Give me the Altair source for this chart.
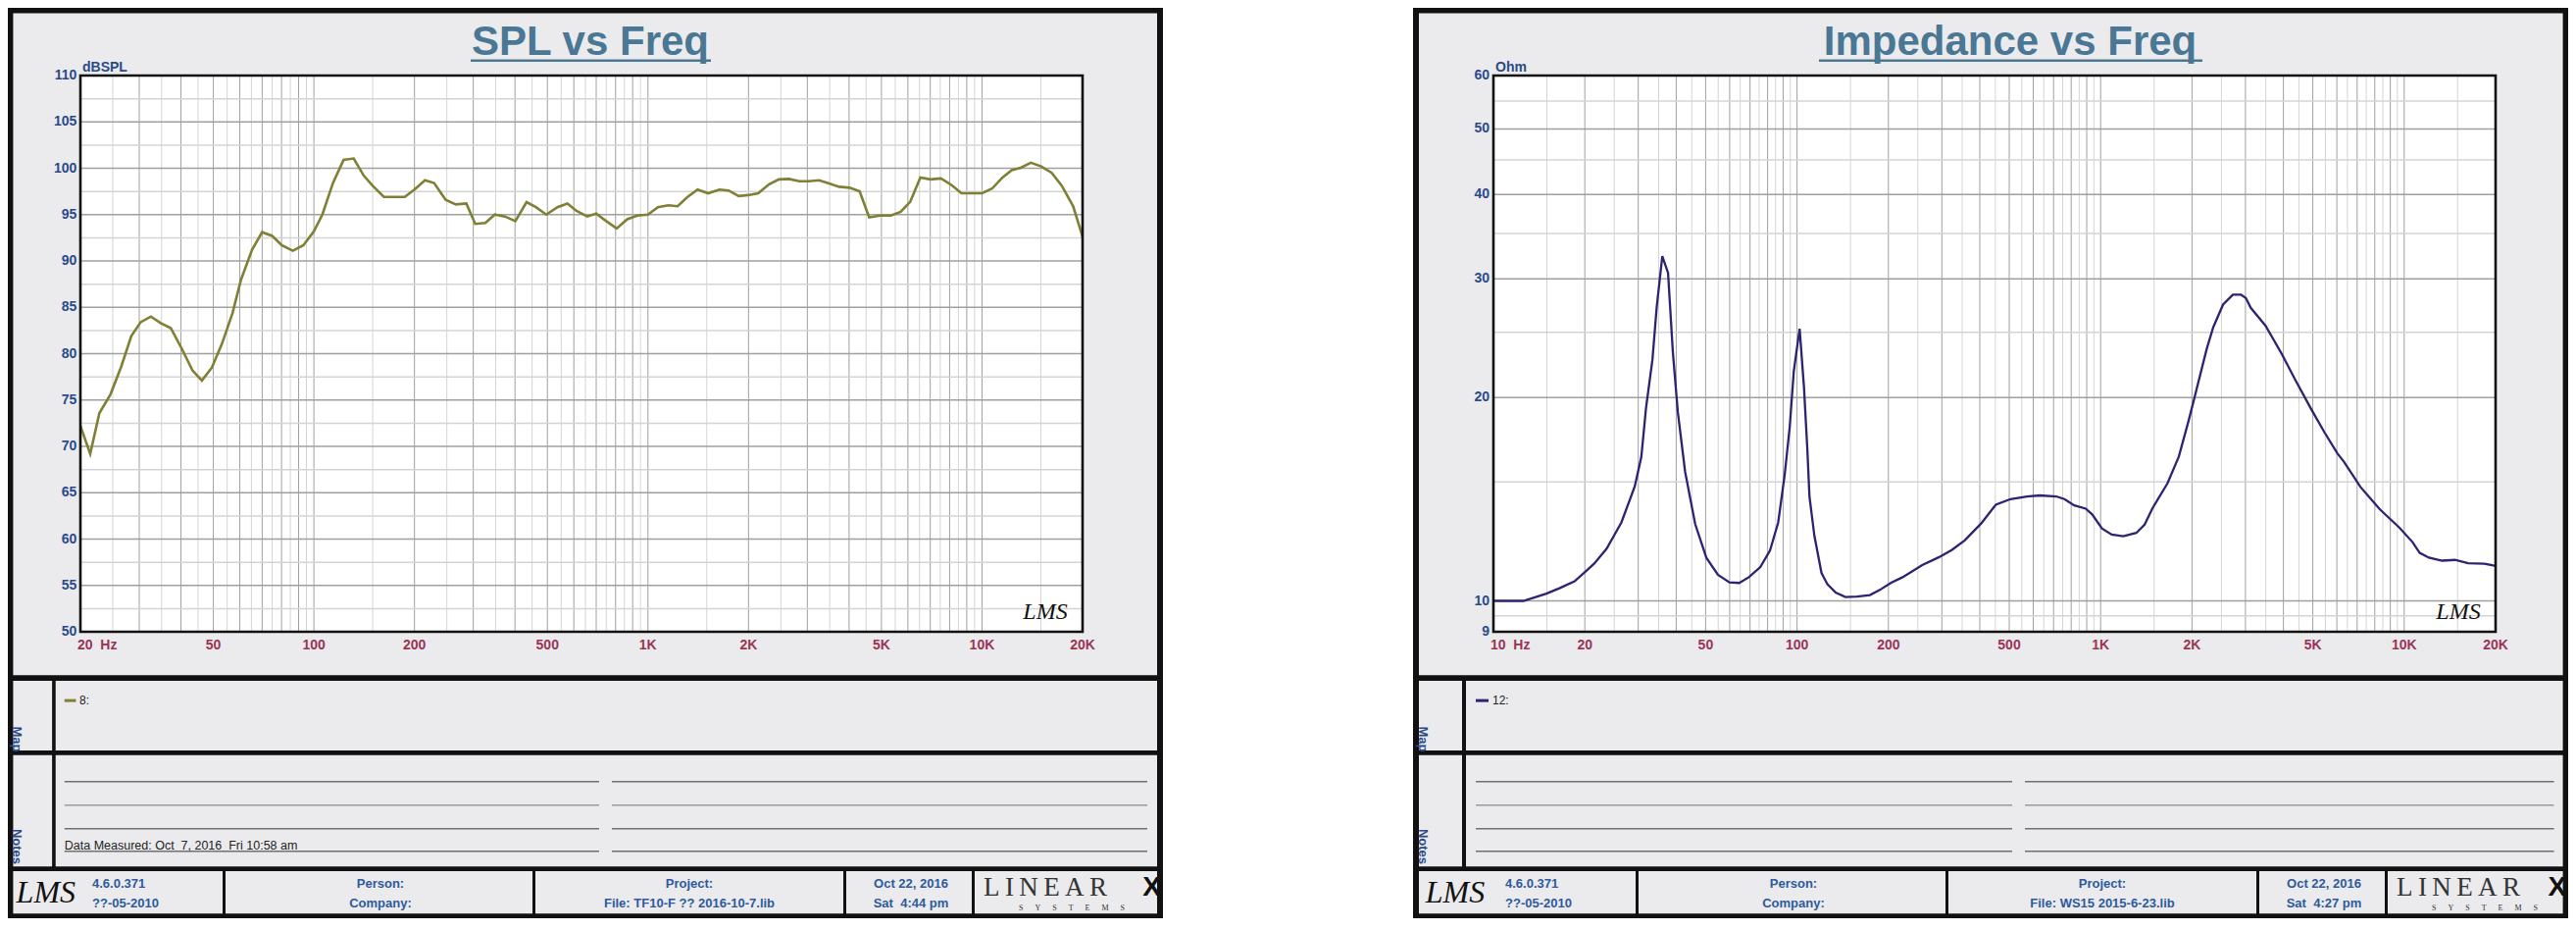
import altair as alt
import pandas as pd

# ---------------- data ----------------
spl_freq = [20, 21.4, 22.8, 24.6, 26.5, 28.4, 30.3, 32.5, 34.8, 37.3, 40.4, 43.3, 46.2, 49.5,
            53.1, 57.1, 60.4, 65.3, 70, 75, 80.1, 86.5, 93, 100, 106, 114, 122.7, 131.6, 141,
            150, 162, 187, 200, 215, 229, 248, 266, 286, 304, 326, 348, 373, 401, 433, 462,
            496, 536, 574, 611, 658, 700, 750, 806, 867, 929, 1000, 1071, 1151, 1227, 1314,
            1408, 1514, 1637, 1744, 1869, 1991, 2139, 2300, 2464, 2642, 2840, 3025, 3252,
            3485, 3734, 4014, 4302, 4595, 4957, 5331, 5710, 6100, 6538, 7006, 7532, 8097,
            8680, 9299, 10000, 10716, 11520, 12270, 13070, 14000, 15040, 16170, 17340,
            18750, 20000]
spl_db = [72.2, 69.2, 73.6, 75.6, 78.6, 81.9, 83.4, 84.0, 83.3, 82.75, 80.4, 78.2, 77.1, 78.5,
          81.1, 84.4, 87.9, 91.2, 93.1, 92.7, 91.7, 91.1, 91.7, 93.2, 95.0, 98.4, 100.9, 101.05,
          99.2, 98.1, 96.9, 96.9, 97.7, 98.7, 98.4, 96.6, 96.1, 96.2, 94.0, 94.1, 95.0, 94.8,
          94.3, 96.35, 95.8, 95.0, 95.8, 96.2, 95.4, 94.8, 95.1, 94.3, 93.5, 94.5, 94.9, 95.0,
          95.8, 96.0, 95.9, 96.9, 97.7, 97.3, 97.7, 97.6, 97.0, 97.1, 97.3, 98.25, 98.8, 98.85,
          98.6, 98.6, 98.7, 98.35, 98.0, 97.9, 97.5, 94.7, 94.9, 94.9, 95.3, 96.4, 99.0, 98.8,
          98.9, 98.2, 97.3, 97.3, 97.3, 97.8, 99.0, 99.8, 100.05, 100.6, 100.2, 99.5, 98.1,
          95.9, 92.6]

imp_freq = [10, 12.56, 14.94, 16.5, 18.5, 20.1, 21.45, 23.6, 26.4, 29.2, 30.7, 31.8, 33.4,
            34.5, 36.0, 37.6, 39.0, 40.5, 42.8, 46.2, 50.3, 54.9, 59.9, 64.5, 69.4, 75.7, 81.5,
            86.7, 91.0, 94.6, 97.6, 102, 105.4, 108.1, 109.9, 114.1, 120.4, 126, 134.1, 144.4,
            157.4, 173.9, 187.3, 204.2, 222.7, 258.5, 292.7, 323.1, 356.7, 404, 451.7, 505,
            571.5, 631, 714.5, 760, 818.5, 893, 938, 1010, 1088, 1187, 1311, 1396, 1484, 1660,
            1810, 1950, 2048, 2235, 2349, 2531, 2726, 2900, 3009, 3123, 3492, 3954, 4365, 4941,
            5457, 6023, 6330, 7167, 8318, 9650, 10653, 11247, 12063, 13314, 14703, 16240,
            18373, 20000]
imp_ohm = [10.0, 10.0, 10.25, 10.44, 10.69, 11.05, 11.35, 11.95, 13.07, 14.77, 16.34, 19.27,
           22.76, 27.23, 32.4, 30.6, 23.35, 19.03, 15.53, 12.99, 11.58, 10.93, 10.65, 10.63,
           10.84, 11.22, 11.88, 13.07, 15.33, 18.08, 21.9, 25.3, 20.75, 16.83, 14.27, 12.48,
           11.0, 10.58, 10.29, 10.13, 10.15, 10.2, 10.38, 10.64, 10.84, 11.3, 11.6, 11.89,
           12.29, 13.02, 13.88, 14.15, 14.28, 14.33, 14.28, 14.15, 13.85, 13.7, 13.43, 12.8,
           12.54, 12.47, 12.61, 12.97, 13.73, 14.93, 16.36, 18.5, 20.17, 23.6, 25.42, 27.47,
           28.41, 28.41, 28.1, 27.17, 25.57, 23.2, 21.3, 19.23, 17.78, 16.54, 16.08, 14.76,
           13.66, 12.83, 12.22, 11.78, 11.59, 11.47, 11.5, 11.37, 11.35, 11.27]

spl_xlab_f = [20, 50, 100, 200, 500, 1000, 2000, 5000, 10000, 20000]
spl_xlab_t = ["20\u00a0\u00a0Hz", "50", "100", "200", "500", "1K", "2K", "5K", "10K", "20K"]
spl_ylab_v = [50, 55, 60, 65, 70, 75, 80, 85, 90, 95, 100, 105, 110]
spl_ylab_t = ["50", "55", "60", "65", "70", "75", "80", "85", "90", "95", "100", "105", "110"]
spl_hmajor = [55, 60, 65, 70, 75, 80, 85, 90, 95, 100, 105]
spl_hminor = [52.5, 57.5, 62.5, 67.5, 72.5, 77.5, 82.5, 87.5, 92.5, 97.5, 102.5, 107.5]

imp_xlab_f = [10, 20, 50, 100, 200, 500, 1000, 2000, 5000, 10000, 20000]
imp_xlab_t = ["10\u00a0\u00a0Hz", "20", "50", "100", "200", "500", "1K", "2K", "5K", "10K", "20K"]
imp_ylab_v = [9, 10, 20, 30, 40, 50, 60]
imp_ylab_t = ["9", "10", "20", "30", "40", "50", "60"]
imp_hmajor = [10, 20, 30, 40, 50]
imp_hminor = [9.5, 15, 25, 35, 45, 55]

decades = [10, 100, 1000, 10000]
major_mults = [1, 2, 3, 4, 5, 6, 7, 8, 9]
minor_mults = [1.5, 2.5, 3.5, 4.5, 5.5, 6.5, 7.5, 8.5, 9.5]

# ---------------- layout / style ----------------
W, H = 2611, 928
# reference-pixel -> chart-pixel mapping (page has an 8px margin)
XK = [(0, 0), (82, 74), (2545, 2537), (2627, 2611)]
YK = [(0, 0), (77, 69), (644, 636), (948, 928)]


def _pw(v, knots):
    for (a, fa), (b, fb) in zip(knots[:-1], knots[1:]):
        if v <= b:
            return round(fa + (v - a) * (fb - fa) / (b - a), 2)
    return float(knots[-1][1])


def X(v):
    return _pw(v, XK)


def Y(v):
    return _pw(v, YK)


SANS = "Liberation Sans, Arial, Helvetica, sans-serif"
SERIF = "Liberation Serif, Times New Roman, serif"
PANEL = "#ebebed"
TITLE_C = "#4a7794"
YLAB_C = "#2a4a88"
XLAB_C = "#9a3456"
FOOT_C = "#2e5a9c"
GRID_MAJ = "#a0a0a0"
GRID_MIN = "#d4d4d4"
SPL_C = "#7f7f35"
IMP_C = "#2b2472"

ONE = pd.DataFrame({"k": [0]})


def rect(x1, y1, x2, y2, fill, stroke=None, sw=0, fill_opacity=1):
    kw = dict(fill=fill, fillOpacity=fill_opacity)
    if stroke:
        kw.update(stroke=stroke, strokeWidth=sw)
    return alt.Chart(ONE).mark_rect(**kw).encode(
        x=alt.value(X(x1)), x2=alt.value(X(x2)), y=alt.value(Y(y1)), y2=alt.value(Y(y2)))


def hline(x1, x2, y, color, sw):
    return alt.Chart(ONE).mark_rule(color=color, strokeWidth=sw).encode(
        x=alt.value(X(x1)), x2=alt.value(X(x2)), y=alt.value(Y(y)))


def txt(x, y, s, size, color, weight="normal", align="left", baseline="middle",
        font=SANS, style="normal", angle=None):
    kw = dict(text=s, fontSize=size, color=color, fontWeight=weight, align=align,
              baseline=baseline, font=font, fontStyle=style)
    if angle is not None:
        kw["angle"] = angle
    return alt.Chart(ONE).mark_text(**kw).encode(x=alt.value(X(x)), y=alt.value(Y(y)))


def grid_vals(lo, hi, mults):
    return [m * d for d in decades for m in mults if lo < m * d < hi]


def plot(bx, freq, vals, color, sw, xdom, ydom, ytype, hmaj, hmin, xf, xt, yv, yt):
    x0, x1 = X(bx + 82), X(bx + 1104)
    y0, y1 = Y(77), Y(644)
    xs = alt.Scale(type="log", domain=xdom, range=[x0, x1], nice=False)
    ys = alt.Scale(type=ytype, domain=ydom, range=[y1, y0], nice=False, zero=False)
    vmin = alt.Chart(pd.DataFrame({"f": grid_vals(xdom[0], xdom[1], minor_mults)})).mark_rule(
        color=GRID_MIN, strokeWidth=1).encode(
        x=alt.X("f:Q", scale=xs, axis=None), y=alt.value(y0), y2=alt.value(y1))
    vmaj = alt.Chart(pd.DataFrame({"f": grid_vals(xdom[0], xdom[1], major_mults)})).mark_rule(
        color=GRID_MAJ, strokeWidth=1).encode(
        x=alt.X("f:Q", scale=xs, axis=None), y=alt.value(y0), y2=alt.value(y1))
    hmn = alt.Chart(pd.DataFrame({"v": hmin})).mark_rule(color=GRID_MIN, strokeWidth=1.5).encode(
        y=alt.Y("v:Q", scale=ys, axis=None), x=alt.value(x0), x2=alt.value(x1))
    hmj = alt.Chart(pd.DataFrame({"v": hmaj})).mark_rule(color=GRID_MAJ, strokeWidth=1.5).encode(
        y=alt.Y("v:Q", scale=ys, axis=None), x=alt.value(x0), x2=alt.value(x1))
    line = alt.Chart(pd.DataFrame({"freq": freq, "val": vals})).mark_line(
        color=color, strokeWidth=sw).encode(
        x=alt.X("freq:Q", scale=xs, axis=None), y=alt.Y("val:Q", scale=ys, axis=None))
    xl0 = alt.Chart(pd.DataFrame({"f": xf[:1], "t": xt[:1]})).mark_text(
        fontSize=14, fontWeight="bold", color=XLAB_C, font=SANS, align="left", dx=-3,
        baseline="middle").encode(
        x=alt.X("f:Q", scale=xs, axis=None), y=alt.value(Y(659)), text="t:N")
    xl = alt.Chart(pd.DataFrame({"f": xf[1:], "t": xt[1:]})).mark_text(
        fontSize=14, fontWeight="bold", color=XLAB_C, font=SANS, align="center",
        baseline="middle").encode(
        x=alt.X("f:Q", scale=xs, axis=None), y=alt.value(Y(659)), text="t:N")
    yl = alt.Chart(pd.DataFrame({"v": yv, "t": yt})).mark_text(
        fontSize=14, fontWeight="bold", color=YLAB_C, font=SANS, align="right",
        baseline="middle").encode(
        y=alt.Y("v:Q", scale=ys, axis=None), x=alt.value(X(bx + 78)), text="t:N")
    return alt.layer(vmin, vmaj, hmn, hmj, line, xl0, xl, yl)


def panel_back(bx):
    L = []
    L.append(rect(bx, 0, bx + 1186, 948, "#111111"))
    L.append(rect(bx + 6, 6, bx + 1180, 690, PANEL))
    L.append(rect(bx + 6, 696, bx + 50, 770, PANEL))
    L.append(rect(bx + 54, 696, bx + 1180, 770, PANEL))
    L.append(rect(bx + 6, 775, bx + 50, 893, PANEL))
    L.append(rect(bx + 54, 775, bx + 1180, 893, PANEL))
    for a, b in [(6, 227), (230, 543), (546, 860), (863, 991), (994, 1180)]:
        L.append(rect(bx + a, 898, bx + b, 943, PANEL))
    L.append(rect(bx + 82, 77, bx + 1104, 644, "white"))
    return L


def panel_front(bx, title, t_x, ul, unit, legend, line_color, notes_text, file_text, time_text):
    L = []
    L.append(rect(bx + 82, 77, bx + 1104, 644, "white", stroke="#111111", sw=2.6, fill_opacity=0))
    L.append(txt(bx + t_x, 54, title, 42, TITLE_C, weight="bold", align="center",
                 baseline="alphabetic"))
    L.append(hline(bx + ul[0], bx + ul[1], 60, TITLE_C, 2.5))
    L.append(txt(bx + 84, 68, unit, 14, YLAB_C, weight="bold"))
    L.append(txt(bx + 1066, 624, "LMS", 24, "#111111", font=SERIF, style="italic", align="center"))
    # map / notes labels
    L.append(txt(bx + 10, 758, "Map", 13, YLAB_C, weight="bold", align="center", angle=90))
    L.append(txt(bx + 10, 872, "Notes", 13, YLAB_C, weight="bold", align="center", angle=90))
    # legend
    L.append(hline(bx + 64, bx + 77, 717, line_color, 3))
    L.append(txt(bx + 81, 717, legend, 12, "#222222"))
    # notes lines
    for yy, cc in [(803, "#707070"), (828, "#9a9a9a"), (853, "#707070"), (877, "#707070")]:
        L.append(hline(bx + 64, bx + 611, yy, cc, 1.6))
        L.append(hline(bx + 624, bx + 1170, yy, cc, 1.6))
    if notes_text:
        L.append(txt(bx + 64, 875, notes_text, 12.5, "#222222", baseline="alphabetic"))
    # footer
    L.append(txt(bx + 43, 921, "LMS", 32, "#111111", font=SERIF, style="italic", align="center"))
    L.append(txt(bx + 94, 912, "4.6.0.371", 13, FOOT_C, weight="bold"))
    L.append(txt(bx + 94, 932, "??-05-2010", 13, FOOT_C, weight="bold"))
    L.append(txt(bx + 388, 912, "Person:", 13, FOOT_C, weight="bold", align="center"))
    L.append(txt(bx + 388, 932, "Company:", 13, FOOT_C, weight="bold", align="center"))
    L.append(txt(bx + 703, 912, "Project:", 13, FOOT_C, weight="bold", align="center"))
    L.append(txt(bx + 703, 932, file_text, 13, FOOT_C, weight="bold", align="center"))
    L.append(txt(bx + 929, 912, "Oct 22, 2016", 13, FOOT_C, weight="bold", align="center"))
    L.append(txt(bx + 929, 932, time_text, 13, FOOT_C, weight="bold", align="center"))
    L.append(txt(bx + 1003, 924, "L\u2009I\u2009N\u2009E\u2009A\u2009R", 27, "#333333",
                 font=SERIF, baseline="alphabetic"))
    L.append(txt(bx + 1184, 924, "X", 28, "#111111", weight="bold", align="right",
                 baseline="alphabetic"))
    L.append(txt(bx + 1093, 938, "S\u2003\u2002Y\u2003\u2002S\u2003\u2002T\u2003\u2002E"
                 "\u2003\u2002M\u2003\u2002S", 8, "#333333", font=SERIF, align="center"))
    return L


LB, RB = 0, 1441

layers = []
layers += panel_back(LB)
layers += panel_back(RB)
layers.append(plot(LB, spl_freq, spl_db, SPL_C, 2.6, [20, 20000], [50, 110], "linear",
                   spl_hmajor, spl_hminor, spl_xlab_f, spl_xlab_t, spl_ylab_v, spl_ylab_t))
layers.append(plot(RB, imp_freq, imp_ohm, IMP_C, 2.3, [10, 20000], [9, 60], "log",
                   imp_hmajor, imp_hminor, imp_xlab_f, imp_xlab_t, imp_ylab_v, imp_ylab_t))
layers += panel_front(LB, "SPL vs Freq", 602, (480, 725), "dBSPL", "8:", SPL_C,
                      "Data Measured: Oct\u00a0\u00a07, 2016\u00a0\u00a0Fri 10:58 am",
                      "File: TF10-F ?? 2016-10-7.lib", "Sat\u00a0\u00a04:44 pm")
layers += panel_front(RB, "Impedance vs Freq", 609, (414, 805), "Ohm", "12:", IMP_C,
                      None, "File: WS15 2015-6-23.lib", "Sat\u00a0\u00a04:27 pm")

chart = alt.layer(*layers).resolve_scale(x="independent", y="independent").properties(
    width=W, height=H, padding=0, autosize="none", background="white"
).configure_view(strokeWidth=0)

chart.save("out.html", embed_options={"renderer": "svg", "actions": False})
